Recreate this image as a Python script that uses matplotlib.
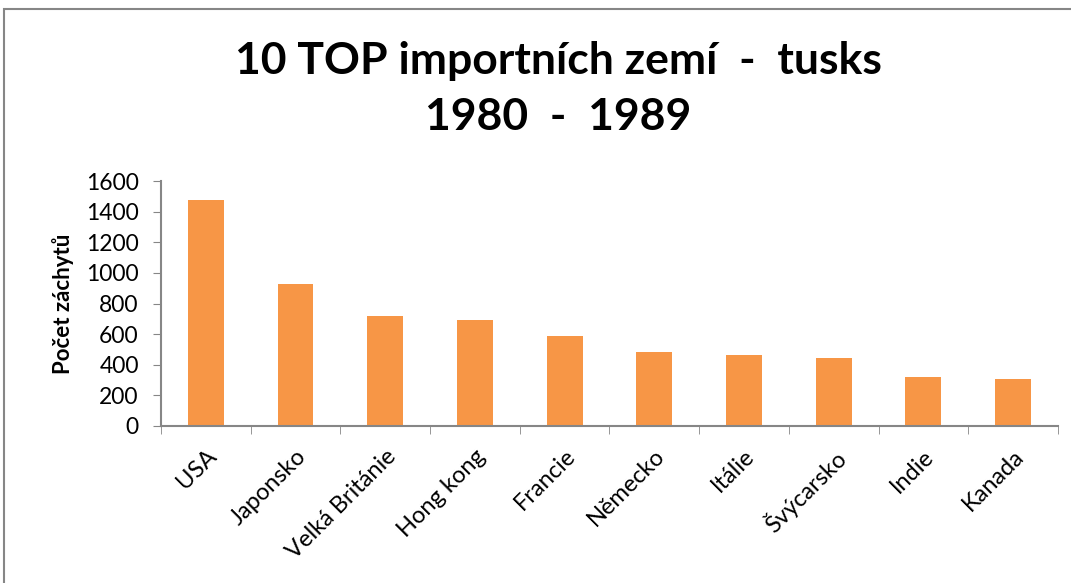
import matplotlib.pyplot as plt
from matplotlib.patches import Rectangle
import numpy as np

plt.rcParams['font.family'] = ['Lato', 'DejaVu Sans']

# data
countries = ['USA', 'Japonsko', 'Velká Británie', 'Hong kong', 'Francie',
             'Německo', 'Itálie', 'Švýcarsko', 'Indie', 'Kanada']
catches = [1475, 928, 717, 695, 590, 481, 466, 446, 317, 310]
yticks = [0, 200, 400, 600, 800, 1000, 1200, 1400, 1600]

fig = plt.figure(figsize=(10.71, 5.83), dpi=100)
ax = fig.add_axes([0.1503, 0.2693, 0.8375, 0.4202])

x = np.arange(len(countries))
ax.bar(x, catches, width=0.4, color='#F79646')

ax.set_xlim(-0.5, len(countries) - 0.5)
ax.set_ylim(0, 1600)
ax.set_yticks(yticks)
ax.tick_params(axis='y', labelsize=16.5, length=6, color='#868686', pad=10)

# labels at centers, tick marks at category boundaries
ax.set_xticks(x)
ax.set_xticklabels(countries, rotation=45, ha='right', rotation_mode='anchor', fontsize=17)
ax.tick_params(axis='x', which='major', length=0, pad=14)
ax.set_xticks(np.arange(-0.5, len(countries)), minor=True)
ax.tick_params(axis='x', which='minor', length=6, color='#868686')

for s in ['top', 'right']:
    ax.spines[s].set_visible(False)
for s in ['left', 'bottom']:
    ax.spines[s].set_color('#868686')
    ax.spines[s].set_linewidth(1.5)

ax.set_ylabel('Počet záchytů', fontsize=16, fontweight='bold')
ax.yaxis.set_label_coords(-0.097, 0.5)

fig.text(0.521, 0.847, '10 TOP importních zemí  -  tusks\n1980  -  1989',
         ha='center', va='center', fontsize=32, fontweight='bold', linespacing=1.5)

# outer frame
fig.patches.append(Rectangle((4 / 1071, -0.01), 1.02, 1 - 9 / 583 + 0.01,
                             transform=fig.transFigure, fill=False,
                             edgecolor='#868686', linewidth=1.5))

plt.savefig('out.png')
